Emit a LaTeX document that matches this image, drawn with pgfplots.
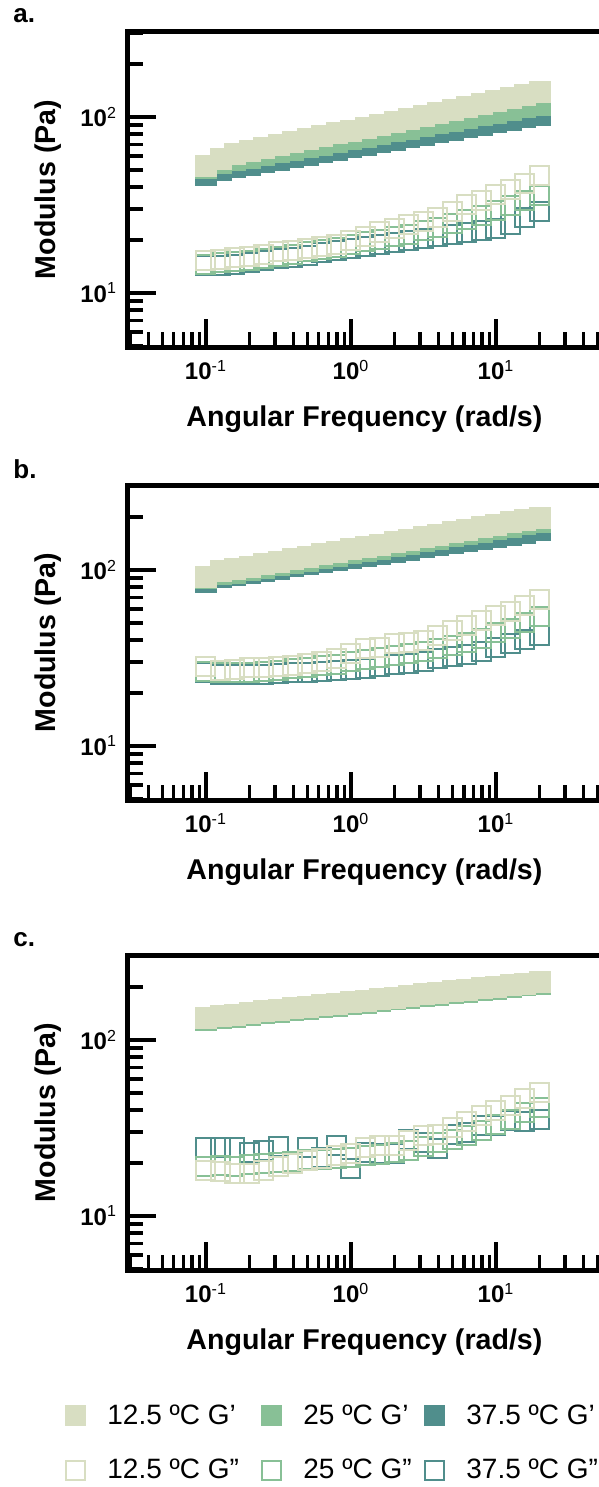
\documentclass[border=0pt]{standalone}
\usepackage{pgfplots}
\pgfplotsset{compat=1.18}
\usepackage{pgfplotstable}
\usepackage{fontspec}
\setmainfont{Liberation Sans}

\definecolor{cA}{RGB}{216,222,194}
\definecolor{cB}{RGB}{136,192,150}
\definecolor{cC}{RGB}{80,142,140}

% w = angular frequency; Ga..Gc = G' at 12.5/25/37.5 C; Ha..Hc = G''
\pgfplotstableread{
w      Ga    Gb    Gc    Ha   Hb   Hc
0.1    53.0  51.4  47.1  15.3 14.6 14.3
0.1259 57.9  54.9  50.3  15.5 14.8 14.4
0.1585 61.8  56.9  52.0  15.8 15.0 14.6
0.1995 64.2  58.9  53.7  16.2 15.3 14.9
0.2512 66.7  61.0  55.5  16.6 15.7 15.2
0.3162 69.3  63.1  57.4  17.1 16.2 15.6
0.3981 72.1  65.3  59.3  17.4 16.6 16.0
0.5012 74.9  67.6  61.2  17.8 17.1 16.4
0.6310 77.8  70.0  63.2  18.3 17.6 16.9
0.7943 80.9  72.5  65.4  18.8 18.2 17.4
1.0    84.0  75.0  67.5  19.8 18.9 18.0
1.259  87.3  77.7  69.8  21.0 19.5 18.4
1.585  90.8  80.4  72.1  22.2 20.1 18.8
1.995  94.3  83.3  74.5  23.2 20.8 19.3
2.512  98.0  86.2  77.0  24.4 21.6 19.8
3.162  101.9 89.2  79.5  25.5 22.5 20.3
3.981  105.9 92.4  82.2  26.8 23.6 20.9
5.012  110.0 95.6  84.9  29.2 24.7 21.5
6.310  114.3 99.0  87.7  31.7 26.0 22.1
7.943  118.8 102.5 90.6  33.5 27.5 22.6
10.0   123.5 106.2 93.6  36.1 29.5 23.2
12.59  128.3 109.9 96.8  38.6 31.4 24.5
15.85  133.3 113.8 100.0 41.7 33.5 26.8
19.95  138.5 117.8 103.3 46.5 35.9 29.2
}\dataA

\pgfplotstableread{
w      Ga    Gb    Gc    Ha   Hb   Hc
0.1    91.8  90.5  85.3  28.1 26.5 26.1
0.1259 99.3  95.0  91.5  26.9 26.0 25.5
0.1585 101.6 97.0  94.0  27.1 26.0 25.4
0.1995 104.9 100.0 96.7  27.8 26.2 25.5
0.2512 108.4 103.2 99.4  27.8 26.5 25.6
0.3162 111.9 106.5 102.2 28.3 27.0 25.8
0.3981 115.5 109.9 105.1 28.6 27.4 26.0
0.5012 119.3 113.4 108.0 29.3 27.9 26.3
0.6310 123.2 117.0 111.1 30.0 28.5 26.6
0.7943 127.2 120.8 114.2 31.3 29.2 26.9
1.0    131.4 124.7 117.4 33.6 30.0 27.2
1.259  135.7 128.7 120.7 35.6 30.8 27.7
1.585  140.1 132.8 124.1 36.2 31.7 28.3
1.995  144.7 137.1 127.6 38.4 32.6 28.9
2.512  149.4 141.5 131.2 38.8 33.5 29.6
3.162  154.3 146.0 134.9 39.8 34.5 30.3
3.981  159.3 150.7 138.7 42.5 35.8 31.2
5.012  164.5 155.6 142.6 45.3 37.3 32.2
6.310  169.9 160.6 146.6 48.4 38.9 33.3
7.943  175.4 165.8 150.7 51.6 40.6 34.6
10.0   181.2 171.1 155.0 55.1 44.0 36.1
12.59  187.1 176.6 159.3 58.3 46.8 38.0
15.85  193.2 182.3 163.8 62.9 50.2 40.1
19.95  199.5 188.2 168.4 67.8 54.3 42.5
}\dataB

\pgfplotstableread{
w      Ga    Gb    Gc    Ha   Hb   Hc
0.1    134.4 131.0 132.4 18.2 19.0 24.4
0.1259 137.2 133.8 135.1 18.0 19.3 24.4
0.1585 140.0 136.5 137.9 17.4 19.0 24.4
0.1995 142.9 139.3 140.8 17.4 19.5 23.0
0.2512 145.8 142.2 143.6 18.2 19.8 23.5
0.3162 148.8 145.1 146.6 19.0 20.0 24.8
0.3981 151.8 148.0 149.5 19.8 20.5 20.5
0.5012 154.9 151.0 152.6 20.6 20.8 24.6
0.6310 158.1 154.1 155.7 21.3 21.0 21.6
0.7943 161.3 157.3 158.9 22.1 21.3 25.0
1.0    164.6 160.5 162.1 22.6 21.6 18.6
1.259  168.0 163.8 165.5 24.6 22.0 23.0
1.585  171.4 167.1 168.8 25.0 22.4 22.5
1.995  175.0 170.6 172.4 25.3 22.8 22.6
2.512  178.5 174.0 175.8 26.8 23.6 27.3
3.162  182.2 177.6 179.5 28.7 24.8 26.0
3.981  185.9 181.3 183.1 29.2 26.0 24.1
5.012  189.7 185.0 186.9 32.0 27.3 29.2
6.310  193.6 188.8 190.7 34.2 28.8 29.8
7.943  197.6 192.7 194.6 37.3 30.4 32.5
10.0   201.6 196.6 198.6 39.8 33.0 32.8
12.59  205.8 200.7 202.7 42.5 35.5 35.0
15.85  210.0 204.8 206.8 46.5 38.5 34.5
19.95  214.3 208.9 211.1 50.4 41.6 35.4
}\dataC

\pgfplotsset{
  gprime/.style={only marks, mark=square*, mark size=5.25pt,
    mark options={draw=#1, fill=#1, line width=0.2pt}, forget plot},
  gdouble/.style={only marks, mark=square, mark size=4.75pt,
    mark options={draw=#1, line width=1pt}, forget plot},
  rheopanel/.style={
    scale only axis,
    width=240.4pt, height=157.5pt,
    xmin=0.029, xmax=60, ymin=4.93, ymax=304,
    xtick={0.1,1,10},
    xticklabels={10\textsuperscript{\mdseries-1},10\textsuperscript{\mdseries0},10\textsuperscript{\mdseries1}},
    ytick={10,100},
    yticklabels={10\textsuperscript{\mdseries1},10\textsuperscript{\mdseries2}},
    minor xtick={0.03,0.04,0.05,0.06,0.07,0.08,0.09,0.2,0.3,0.4,0.5,0.6,0.7,0.8,0.9,2,3,4,5,6,7,8,9,20,30,40,50},
    minor ytick={5,6,7,8,9,20,30,40,50,60,70,80,90,200,300},
    xtick pos=left, ytick pos=left, tick align=inside,
    major tick length=14pt, minor tick length=7.5pt,
    major tick style={black, line width=2.2pt},
    minor tick style={black, line width=1.7pt},
    axis line style={black, line width=2.5pt},
    ticklabel style={font=\fontsize{12}{12}\selectfont\bfseries},
    xticklabel style={yshift=-3pt},
    yticklabel style={xshift=-2pt},
    xlabel={Angular Frequency (rad/s)},
    ylabel={Modulus (Pa)},
    label style={font=\fontsize{14.3}{16}\selectfont\bfseries},
    xlabel style={at={(axis description cs:0.4917,-0.2286)}, anchor=center},
    ylabel style={at={(axis description cs:-0.1664,0.5)}, anchor=center},
  },
}

\newcommand{\panelplots}[1]{%
  \addplot[gprime=cC] table[x=w, y=Gc] {#1};
  \addplot[gprime=cB] table[x=w, y=Gb] {#1};
  \addplot[gprime=cA] table[x=w, y=Ga] {#1};
  \addplot[gdouble=cC] table[x=w, y=Hc] {#1};
  \addplot[gdouble=cB] table[x=w, y=Hb] {#1};
  \addplot[gdouble=cA] table[x=w, y=Ha] {#1};
}

\begin{document}
\begin{tikzpicture}
  \begin{loglogaxis}[rheopanel, at={(64pt,-16pt)}, anchor=north west]
    \panelplots{\dataA}
  \end{loglogaxis}
  \begin{loglogaxis}[rheopanel, at={(64pt,-242.5pt)}, anchor=north west]
    \panelplots{\dataB}
  \end{loglogaxis}
  \begin{loglogaxis}[rheopanel, at={(64pt,-477.5pt)}, anchor=north west,
    legend columns=3,
    legend cell align=left,
    legend image code/.code={\draw[#1] plot coordinates {(0pt,0pt)};},
    legend style={at={(axis description cs:-0.131,-0.4254)}, anchor=north west,
      draw=none, fill=none, inner sep=0pt,
      font=\fontsize{14}{16}\selectfont, row sep=16pt,
      nodes={inner sep=0pt},
      /tikz/every odd column/.append style={column sep=11pt},
      /tikz/every even column/.append style={column sep=0pt}},
  ]
    \panelplots{\dataC}
    \addlegendimage{only marks, mark=square*, mark size=5pt, mark options={draw=cA, fill=cA}}
    \addlegendentry{\makebox[77pt][l]{12.5 ºC G'}}
    \addlegendimage{only marks, mark=square*, mark size=5pt, mark options={draw=cB, fill=cB}}
    \addlegendentry{\makebox[60.5pt][l]{25 ºC G'}}
    \addlegendimage{only marks, mark=square*, mark size=5pt, mark options={draw=cC, fill=cC}}
    \addlegendentry{37.5 ºC G'}
    \addlegendimage{only marks, mark=square, mark size=4.75pt, mark options={draw=cA, line width=1pt}}
    \addlegendentry{\makebox[77pt][l]{12.5 ºC G”}}
    \addlegendimage{only marks, mark=square, mark size=4.75pt, mark options={draw=cB, line width=1pt}}
    \addlegendentry{\makebox[60.5pt][l]{25 ºC G”}}
    \addlegendimage{only marks, mark=square, mark size=4.75pt, mark options={draw=cC, line width=1pt}}
    \addlegendentry{37.5 ºC G”}
  \end{loglogaxis}
  \node[anchor=west, inner sep=0pt, font=\fontsize{13}{13}\selectfont\bfseries] at (6.5pt,-8pt) {a.};
  \node[anchor=west, inner sep=0pt, font=\fontsize{13}{13}\selectfont\bfseries] at (6.5pt,-234.5pt) {b.};
  \node[anchor=west, inner sep=0pt, font=\fontsize{13}{13}\selectfont\bfseries] at (6.5pt,-470pt) {c.};
  \pgfresetboundingbox
  \useasboundingbox (0pt,0pt) rectangle (299.5pt,-743.5pt);
\end{tikzpicture}
\end{document}
